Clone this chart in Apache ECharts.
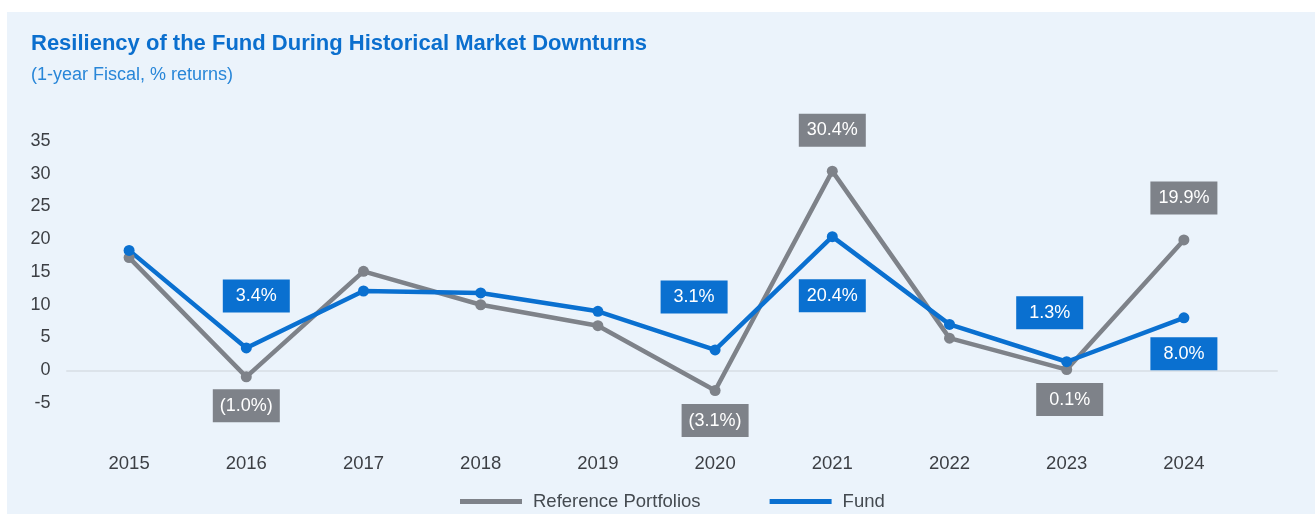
<!DOCTYPE html>
<html>
<head>
<meta charset="utf-8">
<script src="https://cdn.jsdelivr.net/npm/echarts@6/dist/echarts.min.js"></script>
<style>
  html, body { margin: 0; padding: 0; background: #ffffff; }
  #chart { position: absolute; left: 7px; top: 12px; width: 1308px; height: 502px; }
</style>
</head>
<body>
<div id="chart"></div>
<script>
var years = ['2015', '2016', '2017', '2018', '2019', '2020', '2021', '2022', '2023', '2024']
var referencePortfolios = [17.2, -1.0, 15.1, 10.0, 6.8, -3.1, 30.4, 4.9, 0.1, 19.9]
var fund = [18.3, 3.4, 12.1, 11.8, 9.0, 3.1, 20.4, 7.0, 1.3, 8.0]
var yMin = -5
var yMax = 35
var yStep = 5

var GREY = '#7e8289'
var BLUE = '#0a70d0'
var FONT = '"Liberation Sans", Arial, Helvetica, sans-serif'

// which points get a value box, and where it sits
var refLabels = {
  1: { position: 'bottom', distance: 7 },
  5: { position: 'bottom', distance: 8 },
  6: { position: 'top', distance: 19 },
  8: { position: 'bottom', distance: 8, offset: [3, 0] },
  9: { position: 'top', distance: 20 }
}
var fundLabels = {
  1: { position: 'top', distance: 30, offset: [10, 0] },
  5: { position: 'top', distance: 31, offset: [-21, 0] },
  6: { position: 'bottom', distance: 37 },
  8: { position: 'top', distance: 27, offset: [-17, 0] },
  9: { position: 'bottom', distance: 14 }
}

function fmt(v) {
  return v < 0 ? '(' + Math.abs(v).toFixed(1) + '%)' : v.toFixed(1) + '%'
}

function buildData(values, labels, color) {
  return values.map(function (v, i) {
    var l = labels[i]
    if (!l) return { value: v }
    return {
      value: v,
      label: {
        show: true,
        position: l.position,
        distance: l.distance,
        offset: l.offset || [0, 0],
        formatter: fmt(v),
        backgroundColor: color,
        color: '#ffffff',
        fontFamily: FONT,
        fontSize: 18,
        width: 67,
        height: 33,
        lineHeight: 33,
        padding: 0
      }
    }
  })
}

var chart = echarts.init(document.getElementById('chart'))

chart.setOption({
  backgroundColor: '#ebf3fb',
  animation: false,
  title: [{
    text: 'Resiliency of the Fund During Historical Market Downturns',
    left: 19,
    top: 16,
    textStyle: { color: '#0b6fce', fontFamily: FONT, fontWeight: 'bold', fontSize: 22 }
  }, {
    text: '(1-year Fiscal, % returns)',
    left: 19,
    top: 49,
    textStyle: { color: '#2886d8', fontFamily: FONT, fontWeight: 'normal', fontSize: 18 }
  }],
  legend: {
    left: 448,
    top: 475,
    icon: 'rect',
    itemWidth: 62,
    itemHeight: 5,
    itemGap: 69,
    textStyle: { color: '#444a50', fontFamily: FONT, fontSize: 18.5, padding: [0, 0, 0, 6] },
    data: ['Reference Portfolios', 'Fund']
  },
  grid: [{
    left: 63.5,
    right: 72.5,
    top: 129,
    bottom: 111
  }, {
    left: 60,
    right: 38,
    top: 129,
    bottom: 111
  }],
  xAxis: [{
    type: 'category',
    gridIndex: 0,
    boundaryGap: true,
    data: years,
    axisLine: { show: false },
    axisTick: { show: false },
    axisLabel: { color: '#3c3f44', fontFamily: FONT, fontSize: 18.5, margin: 51 }
  }, {
    // zero line spanning the full plot width
    type: 'value',
    gridIndex: 1,
    min: 0,
    max: 1,
    axisLine: { show: true, onZero: true, lineStyle: { color: '#dce3ea', width: 2 } },
    axisTick: { show: false },
    axisLabel: { show: false },
    splitLine: { show: false }
  }],
  yAxis: [{
    type: 'value',
    gridIndex: 0,
    min: yMin,
    max: yMax,
    interval: yStep,
    axisLine: { show: false },
    axisTick: { show: false },
    splitLine: { show: false },
    axisLabel: { color: '#3c3f44', fontFamily: FONT, fontSize: 18, margin: 20 }
  }, {
    type: 'value',
    gridIndex: 1,
    min: yMin,
    max: yMax,
    show: false
  }],
  series: [{
    name: 'Reference Portfolios',
    type: 'line',
    xAxisIndex: 0,
    yAxisIndex: 0,
    data: buildData(referencePortfolios, refLabels, GREY),
    symbol: 'circle',
    symbolSize: 11,
    itemStyle: { color: GREY },
    lineStyle: { color: GREY, width: 4.5 },
    label: { show: false }
  }, {
    name: 'Fund',
    type: 'line',
    xAxisIndex: 0,
    yAxisIndex: 0,
    data: buildData(fund, fundLabels, BLUE),
    symbol: 'circle',
    symbolSize: 11,
    itemStyle: { color: BLUE },
    lineStyle: { color: BLUE, width: 4.5 },
    label: { show: false }
  }]
})
</script>
</body>
</html>
